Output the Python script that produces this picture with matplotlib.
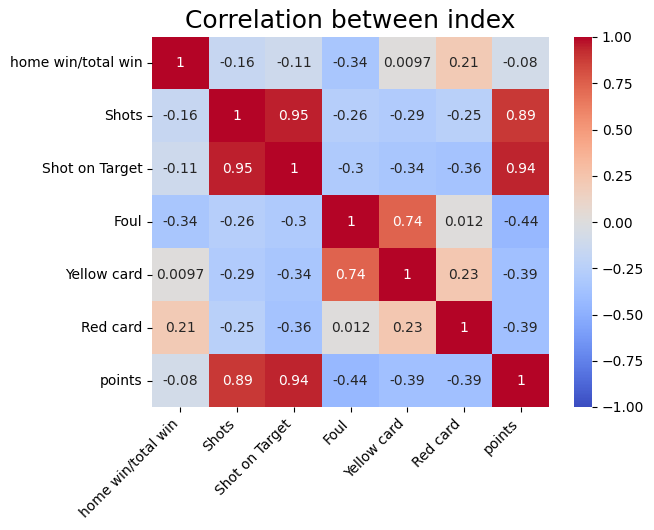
import numpy as np
import pandas as pd
import matplotlib
matplotlib.use("Agg")
import matplotlib.pyplot as plt
import seaborn as sns

labels = ["home win/total win", "Shots", "Shot on Target", "Foul", "Yellow card", "Red card", "points"]
row_home = [1, -0.16, -0.11, -0.34, 0.0097, 0.21, -0.08]
row_shots = [-0.16, 1, 0.95, -0.26, -0.29, -0.25, 0.89]
row_sot = [-0.11, 0.95, 1, -0.3, -0.34, -0.36, 0.94]
row_foul = [-0.34, -0.26, -0.3, 1, 0.74, 0.012, -0.44]
row_yellow = [0.0097, -0.29, -0.34, 0.74, 1, 0.23, -0.39]
row_red = [0.21, -0.25, -0.36, 0.012, 0.23, 1, -0.39]
row_points = [-0.08, 0.89, 0.94, -0.44, -0.39, -0.39, 1]

corr = pd.DataFrame([row_home, row_shots, row_sot, row_foul, row_yellow, row_red, row_points],
                    index=labels, columns=labels)

fig = plt.figure(figsize=(6.54, 5.30), dpi=100)
ax = fig.add_axes([152/654, 1-407/530, (549-152)/654, (407-36.5)/530])
cax = fig.add_axes([574/654, 1-407/530, 18/654, (407-37)/530])
sns.heatmap(corr, annot=True, cmap="coolwarm", vmin=-1, vmax=1, ax=ax, cbar_ax=cax)
ax.set_title("Correlation between index", fontsize=18)
ax.set_xticklabels(ax.get_xticklabels(), rotation=45, ha="right")
ax.set_yticklabels(ax.get_yticklabels(), rotation=0)
fig.savefig("out.png", dpi=100)
